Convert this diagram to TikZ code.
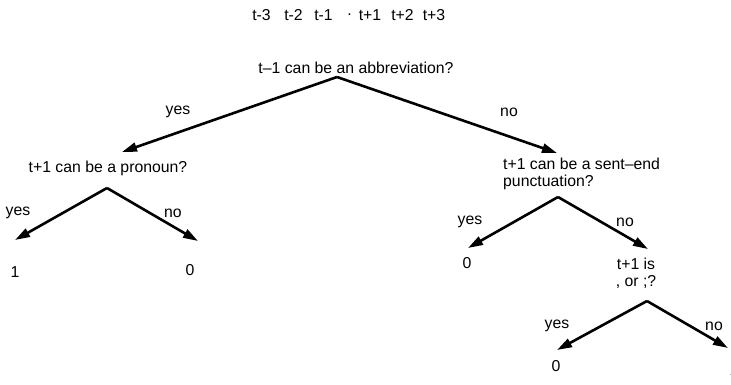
\documentclass[tikz,border=0pt]{standalone}
\usepackage{fontspec}
\setmainfont{Liberation Sans}
\usetikzlibrary{arrows.meta}
\begin{document}
\begin{tikzpicture}[x=1pt,y=-1pt,
  lbl/.style={inner sep=0pt,font=\fontsize{15.8}{16.5}\selectfont},
  edge/.style={line width=2.6pt,-{Triangle[length=15pt,width=9pt]}}]
\useasboundingbox (0,0) rectangle (731,384);
% top row
\node[lbl] (w1) at (261.5,15) {t-3};
\node[lbl] (w2) at (293.5,15) {t-2};
\node[lbl] (w3) at (323.5,15) {t-1};
\node[lbl] (w4) at (349.5,15) {.};
\node[lbl] (w5) at (370,15) {t+1};
\node[lbl] (w6) at (402.5,15) {t+2};
\node[lbl] (w7) at (434,15) {t+3};
% root
\node[lbl] (q1) at (356,68) {t–1 can be an abbreviation?};
\coordinate (a1) at (337,77);
\coordinate (t11) at (122,152);
\coordinate (t12) at (557,153);
\draw[edge] (a1) -- (t11);
\draw[edge] (a1) -- (t12);
\node[lbl] (y1) at (178,112) {yes};
\node[lbl] (n1) at (509,112) {no};
% left subtree
\node[lbl] (q2) at (108,168) {t+1 can be a pronoun?};
\coordinate (a2) at (107,188);
\coordinate (t21) at (15,240);
\coordinate (t22) at (198,241);
\draw[edge] (a2) -- (t21);
\draw[edge] (a2) -- (t22);
\node[lbl] (y2) at (18,213) {yes};
\node[lbl] (n2) at (173,213) {no};
\node[lbl] (l1) at (15,272) {1};
\node[lbl] (l2) at (190,270) {0};
% right subtree
\node[lbl,anchor=west,align=left] (q3) at (503,174) {t+1 can be a sent–end\\punctuation?};
\coordinate (a3) at (558,197);
\coordinate (t31) at (468,248);
\coordinate (t32) at (648,249);
\draw[edge] (a3) -- (t31);
\draw[edge] (a3) -- (t32);
\node[lbl] (y3) at (470,222) {yes};
\node[lbl] (n3) at (625,222) {no};
\node[lbl] (l3) at (467,263) {0};
\node[lbl,align=center] (q4) at (636,273.5) {t+1 is\\, or ;?};
\coordinate (a4) at (647,301);
\coordinate (t41) at (557,350);
\coordinate (t42) at (728,348);
\draw[edge] (a4) -- (t41);
\draw[edge] (a4) -- (t42);
\node[lbl] (y4) at (557,326) {yes};
\node[lbl] (n4) at (714,326) {no};
\node[lbl] (l4) at (556,366) {0};
\node[lbl] (l5) at (734,370) {1};
\end{tikzpicture}
\end{document}
